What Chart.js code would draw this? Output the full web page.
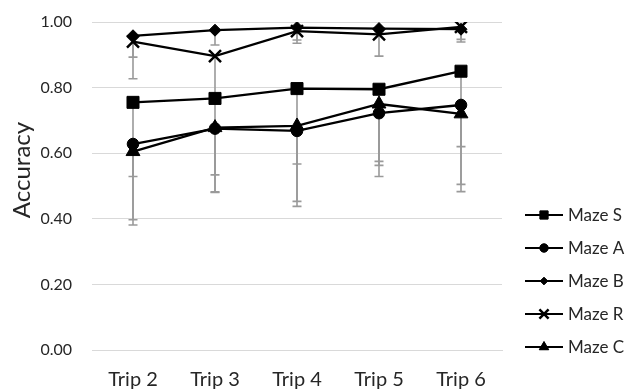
<!DOCTYPE html>
<html>
<head>
<meta charset="utf-8">
<script src="https://cdn.jsdelivr.net/npm/chart.js@4/dist/chart.umd.min.js"></script>
<style>
html,body{margin:0;padding:0;background:#fff;}
#wrap{width:627px;height:392px;}
</style>
</head>
<body>
<div id="wrap"><canvas id="c" width="627" height="392"></canvas></div>
<script>
const categories = ['Trip 2', 'Trip 3', 'Trip 4', 'Trip 5', 'Trip 6'];
const yTicks = [0, 0.2, 0.4, 0.6, 0.8, 1.0];
const seriesNames = ['Maze S', 'Maze A', 'Maze B', 'Maze R', 'Maze C'];
const yTitle = 'Accuracy';

const mazeS = [0.755, 0.767, 0.797, 0.795, 0.850];
const mazeA = [0.628, 0.675, 0.668, 0.722, 0.747];
const mazeB = [0.958, 0.975, 0.983, 0.980, 0.978];
const mazeR = [0.940, 0.896, 0.972, 0.962, 0.985];
const mazeC = [0.605, 0.678, 0.683, 0.750, 0.720];

// lower end of the (minus-only) error bars
const mazeSLow = [0.529, 0.534, 0.567, 0.575, 0.620];
const mazeALow = [0.397, 0.482, 0.453, 0.529, 0.505];
const mazeBLow = [0.893, 0.930, 0.945, 0.970, 0.947];
const mazeRLow = [0.827, 0.770, 0.935, 0.896, 0.939];
const mazeCLow = [0.381, 0.480, 0.438, 0.563, 0.483];

const seriesValues = [mazeS, mazeA, mazeB, mazeR, mazeC];
const seriesLows = [mazeSLow, mazeALow, mazeBLow, mazeRLow, mazeCLow];

const styles = [
  {pointStyle: 'rect', radius: 8.5, legendRadius: 5.8, bw: 1},
  {pointStyle: 'circle', radius: 5.8, legendRadius: 4.2, bw: 1},
  {pointStyle: 'rectRot', radius: 6, legendRadius: 3.8, bw: 1},
  {pointStyle: 'crossRot', radius: 8.5, legendRadius: 6.5, bw: 2.5},
  {pointStyle: 'triangle', radius: 8, legendRadius: 5.5, bw: 1}
];

const FONT = 'Lato, "Open Sans", sans-serif';
const TEXT = '#262626';

const datasets = seriesNames.map((name, i) => ({
  label: name,
  data: seriesValues[i],
  borderColor: '#000',
  backgroundColor: '#000',
  borderWidth: 2.3,
  tension: 0,
  pointStyle: styles[i].pointStyle,
  pointRadius: styles[i].radius,
  pointHoverRadius: styles[i].radius,
  pointBackgroundColor: '#000',
  pointBorderColor: '#000',
  pointBorderWidth: styles[i].bw,
  errLow: seriesLows[i]
}));

const errorBars = {
  id: 'errorBars',
  beforeDatasetsDraw(chart) {
    const ctx = chart.ctx;
    const ys = chart.scales.y;
    ctx.save();
    ctx.strokeStyle = '#9a9a9a';
    ctx.lineWidth = 1.6;
    chart.data.datasets.forEach((ds, i) => {
      const meta = chart.getDatasetMeta(i);
      meta.data.forEach((pt, j) => {
        const x = pt.x, y0 = pt.y;
        const y1 = ys.getPixelForValue(ds.errLow[j]);
        ctx.beginPath();
        ctx.moveTo(x, y0);
        ctx.lineTo(x, y1);
        ctx.moveTo(x - 4.5, y1);
        ctx.lineTo(x + 4.5, y1);
        ctx.stroke();
      });
    });
    ctx.restore();
  }
};

const customLegend = {
  id: 'customLegend',
  afterDraw(chart) {
    const ctx = chart.ctx;
    const ca = chart.chartArea;
    const x0 = ca.right + 23, x1 = ca.right + 61, xm = ca.right + 42, xt = ca.right + 66;
    ctx.save();
    chart.data.datasets.forEach((ds, i) => {
      const y = ca.top + 193 + i * 33;
      ctx.strokeStyle = '#000';
      ctx.lineWidth = 2.2;
      ctx.beginPath();
      ctx.moveTo(x0, y);
      ctx.lineTo(x1, y);
      ctx.stroke();
      ctx.fillStyle = '#000';
      ctx.strokeStyle = '#000';
      ctx.lineWidth = styles[i].bw;
      Chart.helpers.drawPoint(ctx, {
        pointStyle: styles[i].pointStyle,
        radius: styles[i].legendRadius,
        rotation: 0,
        borderWidth: styles[i].bw
      }, xm, y);
      if (styles[i].pointStyle !== 'crossRot') ctx.fill();
      ctx.fillStyle = TEXT;
      ctx.font = '17px ' + FONT;
      ctx.textBaseline = 'middle';
      ctx.textAlign = 'left';
      ctx.fillText(ds.label, xt, y + 1);
    });
    // y axis title
    ctx.translate(22, ca.top + 148);
    ctx.rotate(-Math.PI / 2);
    ctx.font = '24px ' + FONT;
    ctx.fillStyle = TEXT;
    ctx.textAlign = 'center';
    ctx.textBaseline = 'middle';
    ctx.fillText(yTitle, 0, 0);
    ctx.restore();
  }
};

new Chart(document.getElementById('c'), {
  type: 'line',
  data: {labels: categories, datasets: datasets},
  plugins: [errorBars, customLegend],
  options: {
    responsive: false,
    animation: false,
    events: [],
    layout: {padding: {top: 22, right: 125, bottom: 0, left: 0}},
    plugins: {legend: {display: false}, tooltip: {enabled: false}},
    scales: {
      x: {
        offset: true,
        grid: {display: false, drawTicks: false},
        border: {display: true, color: '#d9d9d9', width: 1},
        ticks: {color: TEXT, font: {family: FONT, size: 20}, padding: 18, maxRotation: 0},
        afterFit(s) { s.height = 42; s.paddingLeft = 0; s.paddingRight = 0; }
      },
      y: {
        min: 0, max: 1,
        afterBuildTicks(s) { s.ticks = yTicks.map(v => ({value: v})); },
        grid: {color: '#d9d9d9', lineWidth: 1, drawTicks: false},
        border: {display: false},
        ticks: {color: TEXT, font: {family: FONT, size: 16}, padding: 20,
                callback: v => Number(v).toFixed(2)},
        title: {display: false},
        afterFit(s) { s.width = 92; s.paddingTop = 0; s.paddingBottom = 0; }
      }
    }
  }
});
</script>
</body>
</html>
